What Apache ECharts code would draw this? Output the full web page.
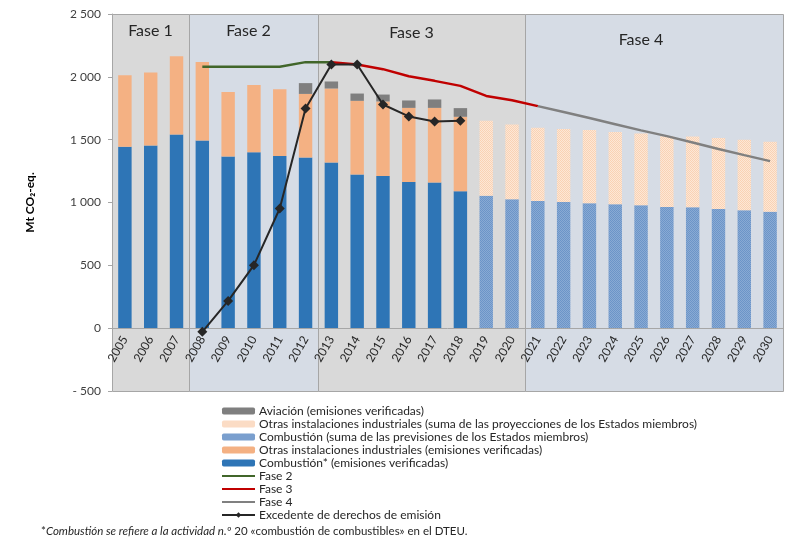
<!DOCTYPE html>
<html>
<head>
<meta charset="utf-8">
<script src="https://cdn.jsdelivr.net/npm/echarts@6.0.0/dist/echarts.min.js"></script>
<style>
  html, body { margin: 0; padding: 0; background: #fff; }
  #chart { width: 800px; height: 548px; }
</style>
</head>
<body>
<div id="chart"></div>
<script>
// ── 数据 ─────────────────────────────
const years = ["2005","2006","2007","2008","2009","2010","2011","2012","2013","2014","2015","2016","2017","2018","2019","2020","2021","2022","2023","2024","2025","2026","2027","2028","2029","2030"];

// 已核实排放 2005-2018
const combVerif  = [1443, 1454, 1541, 1493, 1366, 1400, 1371, 1358, 1318, 1223, 1210, 1164, 1159, 1090];
const otrasVerif = [570, 581, 623, 626, 514, 536, 531, 506, 589, 586, 594, 589, 594, 592];
// 航空 2012-2018
const aviacion   = [86, 56, 58, 55, 59, 67, 69];
// 成员国预测 2019-2030
const combProy   = [1053, 1026, 1011, 1003, 995, 987, 979, 965, 963, 949, 939, 926];
const otrasProy  = [597, 595, 583, 581, 581, 575, 570, 563, 562, 565, 560, 557];

// 上限线
const fase2Line  = [2080, 2080, 2080, 2080, 2117, 2117];                                // 2008-2013
const fase3Line  = [2117, 2098, 2061, 2005, 1968, 1928, 1848, 1814, 1767];              // 2013-2021
const fase4Line  = [1767, 1720, 1672, 1623, 1574, 1528, 1478, 1426, 1377, 1329];        // 2021-2030
const excedente  = [-29, 217, 501, 952, 1748, 2098, 2098, 1780, 1685, 1645, 1650];      // 2008-2018

// 阶段 (第一年 / 最后一年)
const phaseNames = ["Fase 1", "Fase 2", "Fase 3", "Fase 4"];
const phaseFirst = ["2005", "2008", "2013", "2021"];
const phaseLast  = ["2007", "2012", "2020", "2030"];

const yTicks = { min: -500, max: 2500, step: 500 };

// 把片段放到 26 年的位置上
function place(startYear, values) {
  const out = years.map(() => null);
  const i0 = years.indexOf(startYear);
  values.forEach((v, i) => { out[i0 + i] = v; });
  return out;
}

// ── 网格图案 ─────────────────────────
function checker(c1, c2) {
  const cv = document.createElement("canvas");
  cv.width = 2; cv.height = 2;
  const ctx = cv.getContext("2d");
  ctx.fillStyle = c1; ctx.fillRect(0, 0, 2, 2);
  ctx.fillStyle = c2; ctx.fillRect(0, 0, 1, 1); ctx.fillRect(1, 1, 1, 1);
  return { image: cv, repeat: "repeat" };
}

const FONT = "Lato";
const names = {
  avi: "Aviación (emisiones verificadas)",
  otrP: "Otras instalaciones industriales (suma de las proyecciones de los Estados miembros)",
  comP: "Combustión (suma de las previsiones de los Estados miembros)",
  otrV: "Otras instalaciones industriales (emisiones verificadas)",
  comV: "Combustión* (emisiones verificadas)",
  f2: "Fase 2", f3: "Fase 3", f4: "Fase 4",
  exc: "Excedente de derechos de emisión",
};

const phaseColors = ["#d9d9d9", "#d6dce5", "#d9d9d9", "#d6dce5"];
const phaseLabelDx = [0, -5, -10, -13];
const phaseLabelDy = [17, 17, 19, 26];

const GRID = { left: 112, right: 17, top: 14, bottom: 157 };
const plotH = 548 - GRID.top - GRID.bottom;
// x 轴放在 0 线上 (onZero 在这里不生效, 用 offset 往上移)
const zeroOffset = -Math.round((0 - yTicks.min) / (yTicks.max - yTicks.min) * plotH);

const chart = echarts.init(document.getElementById("chart"));

const barCommon = { type: "bar", stack: "total", barWidth: "52%", z: 3 };
const lineCommon = { type: "line", symbol: "none", z: 5, connectNulls: false };
const noMarker = { itemStyle: { opacity: 0 } };

chart.setOption({
  animation: false,
  textStyle: { fontFamily: FONT },
  grid: GRID,
  xAxis: {
    type: "category",
    data: years,
    offset: zeroOffset,
    axisLine: { onZero: false, lineStyle: { color: "#a6a6a6", width: 1 } },
    axisTick: { show: false },
    axisLabel: { rotate: 60, fontSize: 12, color: "#262626", margin: 9, interval: 0, fontFamily: FONT },
    z: 4,
  },
  yAxis: {
    type: "value",
    min: yTicks.min, max: yTicks.max, interval: yTicks.step,
    name: "Mt CO₂-eq.",
    nameLocation: "middle",
    nameRotate: 90,
    nameGap: 76,
    nameTextStyle: { fontWeight: "bold", fontSize: 12, color: "#000", fontFamily: FONT },
    axisLine: { show: true, onZero: false, lineStyle: { color: "#a6a6a6" } },
    axisTick: { show: true, length: 4, lineStyle: { color: "#a6a6a6" } },
    splitLine: { show: false },
    axisLabel: {
      fontSize: 12, color: "#404040", margin: 11, fontFamily: FONT,
      formatter: (v) => {
        const s = String(Math.abs(v)).replace(/\B(?=(\d{3})+(?!\d))/g, " ");
        return v < 0 ? "- " + s : s;
      },
    },
  },
  legend: {
    orient: "vertical",
    left: 221, top: 405,
    padding: 0,
    itemWidth: 33, itemHeight: 7, itemGap: 1,
    textStyle: { fontSize: 12, color: "#262626", fontFamily: FONT, padding: [0, 0, 0, -1] },
    data: [
      names.avi, names.otrP, names.comP, names.otrV, names.comV,
      Object.assign({ name: names.f2 }, noMarker),
      Object.assign({ name: names.f3 }, noMarker),
      Object.assign({ name: names.f4 }, noMarker),
      names.exc,
    ],
  },
  graphic: [{
    type: "text",
    left: 41, top: 525,
    style: {
      text: "{n|*}{i|Combustión se refiere a la actividad n.º} {n|20 «combustión de combustibles» en el DTEU.}",
      rich: {
        n: { fontSize: 11.5, fontFamily: FONT, fill: "#262626" },
        i: { fontSize: 11.5, fontFamily: FONT, fontStyle: "italic", fill: "#262626" },
      },
    },
  }],
  series: [
    // ── 阶段背景 (按类别带宽画矩形) ──
    {
      type: "custom",
      z: 1,
      silent: true,
      data: phaseFirst.map((y) => [y, yTicks.max]),
      renderItem: (params, api) => {
        const i = params.dataIndex;
        const band = api.size([1, 0])[0];
        const a = api.coord([years.indexOf(phaseFirst[i]), yTicks.max]);
        const b = api.coord([years.indexOf(phaseLast[i]), yTicks.min]);
        const x0 = Math.round(a[0] - band / 2), x1 = Math.round(b[0] + band / 2);
        const y0 = Math.round(a[1]), y1 = Math.round(b[1]);
        return {
          type: "group",
          children: [
            {
              type: "rect",
              shape: { x: x0 + 0.5, y: y0 + 0.5, width: x1 - x0, height: y1 - y0 },
              style: { fill: phaseColors[i], stroke: "#a6a6a6", lineWidth: 1 },
            },
            {
              type: "text",
              x: (x0 + x1) / 2 + phaseLabelDx[i],
              y: y0 + phaseLabelDy[i],
              style: { text: phaseNames[i], fontSize: 16, fontFamily: FONT, fill: "#262626", align: "center", verticalAlign: "middle" },
            },
          ],
        };
      },
    },
    // ── 柱 ──
    Object.assign({}, barCommon, { name: names.comV, data: place("2005", combVerif), itemStyle: { color: "#2e75b6" } }),
    Object.assign({}, barCommon, { name: names.comP, data: place("2019", combProy), itemStyle: { color: checker("#89aad4", "#6c95c8") } }),
    Object.assign({}, barCommon, { name: names.otrV, data: place("2005", otrasVerif), itemStyle: { color: "#f4b183" } }),
    Object.assign({}, barCommon, { name: names.otrP, data: place("2019", otrasProy), itemStyle: { color: checker("#fde7d6", "#f9d2b4") } }),
    Object.assign({}, barCommon, { name: names.avi, data: place("2012", aviacion), itemStyle: { color: "#7f7f7f" } }),
    // ── 线 ──
    Object.assign({}, lineCommon, { name: names.f2, data: place("2008", fase2Line), lineStyle: { color: "#41662a", width: 2.5 }, itemStyle: { color: "#41662a" } }),
    Object.assign({}, lineCommon, { name: names.f3, data: place("2013", fase3Line), lineStyle: { color: "#c00000", width: 2.5 }, itemStyle: { color: "#c00000" } }),
    Object.assign({}, lineCommon, { name: names.f4, data: place("2021", fase4Line), lineStyle: { color: "#808080", width: 2.5 }, itemStyle: { color: "#808080" } }),
    Object.assign({}, lineCommon, {
      name: names.exc, data: place("2008", excedente), z: 6,
      symbol: "diamond", symbolSize: 10,
      lineStyle: { color: "#262626", width: 2 }, itemStyle: { color: "#262626" },
    }),
  ],
});
</script>
</body>
</html>
